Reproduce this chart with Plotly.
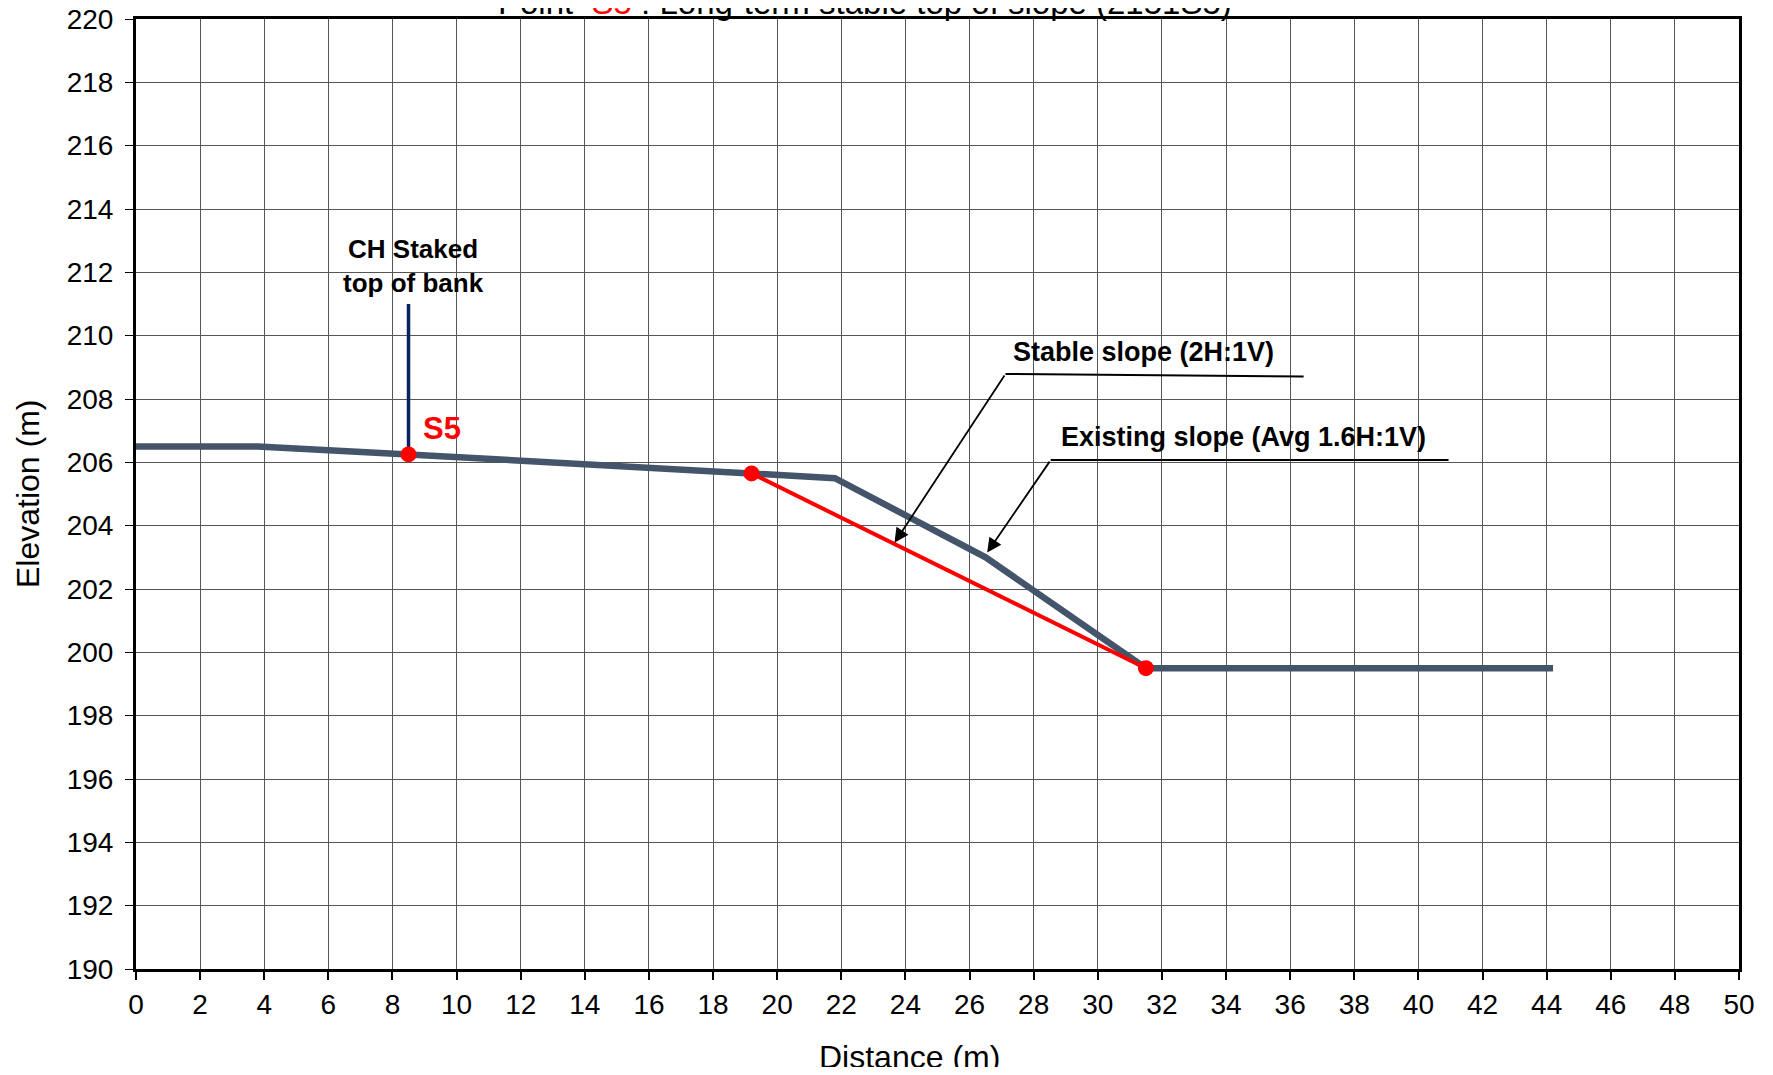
import plotly.graph_objects as go

# Existing ground profile
ground_x = [0, 3.8, 8.5, 19.2, 21.8, 26.5, 31.5, 44.2]
ground_y = [206.5, 206.5, 206.25, 205.65, 205.5, 203.0, 199.5, 199.5]

# Stable slope (2H:1V)
stable_x = [19.2, 31.5]
stable_y = [205.65, 199.5]

# S5 point and CH staked marker
s5_x = [8.5]
s5_y = [206.25]
staked_x = [8.5, 8.5]
staked_y = [206.25, 211.0]

x_ticks = list(range(0, 51, 2))
y_ticks = list(range(190, 221, 2))

# figure sits inside an 8px body margin
W, H = 1757, 1059
L, T = 128, 11
PR, PB = 1731, 961
R, B = W - PR, H - PB
PW, PH = PR - L, PB - T

fig = go.Figure()
fig.add_trace(go.Scatter(x=staked_x, y=staked_y, mode="lines",
                         line=dict(color="#0B2260", width=3.5), showlegend=False))
fig.add_trace(go.Scatter(x=ground_x, y=ground_y, mode="lines",
                         line=dict(color="#44546A", width=6.5), showlegend=False))
fig.add_trace(go.Scatter(x=stable_x, y=stable_y, mode="lines+markers",
                         line=dict(color="#FF0000", width=4),
                         marker=dict(color="#FF0000", size=16), showlegend=False))
fig.add_trace(go.Scatter(x=s5_x, y=s5_y, mode="markers",
                         marker=dict(color="#FF0000", size=16), showlegend=False))

lbl_font = dict(family="Liberation Sans Narrow, Arial Narrow, Liberation Sans, Arial", size=27, color="black")

annotations = [
    dict(x=8.65, y=212.2, xref="x", yref="y", text="<b>CH Staked<br>top of bank</b>",
         showarrow=False, font=dict(family="Liberation Sans, Arial", size=26, color="black"),
         align="center", yanchor="middle"),
    dict(x=8.9, y=207.07, xref="x", yref="y", text="<b>S5</b>", showarrow=False,
         xanchor="left", yanchor="middle",
         font=dict(family="Liberation Sans, Arial", size=31, color="#FF0000")),
    dict(x=27.3, y=209.5, xref="x", yref="y", text="<b>Stable slope (2H:1V)</b>",
         showarrow=False, xanchor="left", yanchor="middle", font=lbl_font),
    dict(x=28.8, y=206.8, xref="x", yref="y", text="<b>Existing slope (Avg 1.6H:1V)</b>",
         showarrow=False, xanchor="left", yanchor="middle", font=lbl_font),
    # arrows
    dict(x=23.66, y=203.46, ax=27.12, ay=208.79, xref="x", yref="y", axref="x", ayref="y",
         text="", showarrow=True, arrowhead=2, arrowsize=1.6, arrowwidth=1.8, arrowcolor="black"),
    dict(x=26.55, y=203.15, ax=28.53, ay=206.07, xref="x", yref="y", axref="x", ayref="y",
         text="", showarrow=True, arrowhead=2, arrowsize=1.6, arrowwidth=1.8, arrowcolor="black"),
    # title (partially cut at top of page)
    dict(x=(857 - L) / PW, y=(PB + 6) / PH, xref="paper", yref="paper",
         text="Point  <span style='color:#FF0000'>S5</span> : Long-term stable top of slope (2151S5)",
         showarrow=False, xanchor="center", yanchor="middle",
         font=dict(family="Liberation Sans, Arial", size=33, color="black")),
    # axis titles
    dict(x=(20 - L) / PW, y=(PB - 486) / PH, xref="paper", yref="paper",
         text="Elevation (m)", textangle=-90, showarrow=False, xanchor="center", yanchor="middle",
         font=dict(family="Liberation Sans, Arial", size=32, color="black")),
    dict(x=(901 - L) / PW, y=-(1049 - PB) / PH, xref="paper", yref="paper",
         text="Distance (m)", showarrow=False, xanchor="center", yanchor="middle",
         font=dict(family="Liberation Sans, Arial", size=32, color="black")),
]

shapes = [
    dict(type="line", xref="x", yref="y", x0=27.12, y0=208.79, x1=36.42, y1=208.71,
         line=dict(color="black", width=2)),
    dict(type="line", xref="x", yref="y", x0=28.53, y0=206.07, x1=40.94, y1=206.07,
         line=dict(color="black", width=2)),
]

fig.update_layout(
    width=W, height=H,
    margin=dict(l=L, r=R, t=T, b=B, autoexpand=False),
    paper_bgcolor="white", plot_bgcolor="white",
    annotations=annotations, shapes=shapes,
    font=dict(family="Liberation Sans, Arial", color="black"),
)
fig.update_xaxes(range=[0, 50], tickvals=x_ticks, ticktext=[str(v) for v in x_ticks],
                 showgrid=True, gridcolor="#555555", gridwidth=1,
                 showline=True, linecolor="black", linewidth=3, mirror=True,
                 ticks="outside", ticklen=8, tickwidth=2, tickcolor="black",
                 ticklabelstandoff=0, ticklabeloverflow="allow", automargin=False,
                 tickfont=dict(size=28, family="Liberation Sans, Arial"),
                 zeroline=False, fixedrange=True)
fig.update_yaxes(range=[190, 220], tickvals=y_ticks, ticktext=[str(v) for v in y_ticks],
                 showgrid=True, gridcolor="#555555", gridwidth=1,
                 showline=True, linecolor="black", linewidth=3, mirror=True,
                 ticks="outside", ticklen=8, tickwidth=1, tickcolor="black",
                 ticklabelstandoff=6, ticklabeloverflow="allow", automargin=False,
                 tickfont=dict(size=28, family="Liberation Sans, Arial"),
                 zeroline=False, fixedrange=True)

fig.write_html("out.html")
